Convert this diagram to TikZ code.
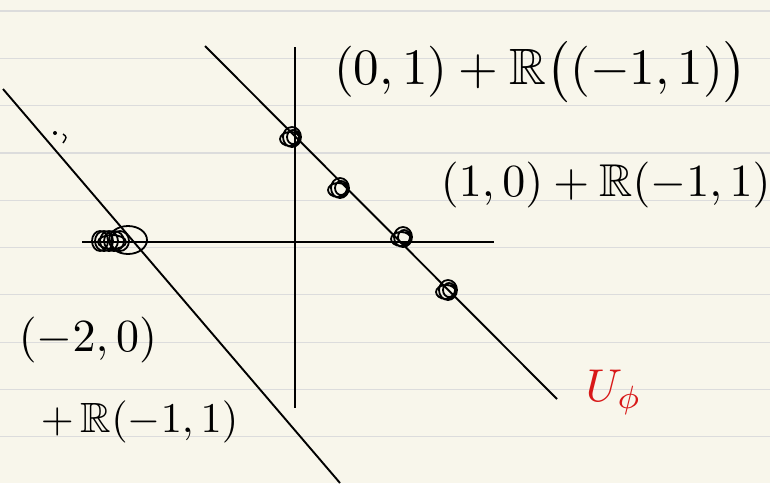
\documentclass[tikz,border=0pt]{standalone}
\usepackage{amsmath,amssymb}
\usetikzlibrary{positioning, calc}
\definecolor{paper}{HTML}{F8F6EB}
\definecolor{ruling}{HTML}{DCDCDC}
\definecolor{pen}{HTML}{D81818}

\begin{document}
\begin{tikzpicture}[x=1pt, y=-1pt,
        axis/.style={line width=2pt},
        solline/.style={line width=1.9pt},
        blob/.style={line width=1.8pt},
        lbl/.style={inner sep=0pt, scale=4.6}
    ]
    % paper
    \fill[paper] (0,0) rectangle (770,483);
    \useasboundingbox (0,0) rectangle (770,483);
    \foreach \k in {0,...,9}
        \draw[ruling, line width=1.2pt] (0,{11+47.3*\k}) -- (770,{11+47.3*\k});

    % axes
    \coordinate (xl) at (82,242);
    \coordinate (xr) at (494,242);
    \coordinate (yt) at (295,47);
    \coordinate (yb) at (295,408);
    \draw[axis] (xl) -- (xr);
    \draw[axis] (yt) -- (yb);

    % the two lines
    \coordinate (a1) at (205,46);
    \coordinate (a2) at (557,399);
    \coordinate (b1) at (3,89);
    \coordinate (b2) at (340,483);
    \draw[solline] (a1) -- (a2);
    \draw[solline] (b1) -- (b2);

    % circled points on the upper line
    \foreach \px/\py in {292/137, 340/188, 403/237, 448/290}
        \draw[blob] (\px,\py) ellipse [x radius=9, y radius=10]
            (\px-2,\py+2) ellipse [x radius=10, y radius=7]
            (\px+1,\py) ellipse [x radius=6, y radius=7];

    % scribbled point on the lower line
    \draw[blob] (128,240) ellipse [x radius=19, y radius=14];
    \foreach \cx/\rx in {100/8, 104/9, 109/9, 114/10, 120/9}
        \draw[blob] (\cx,241) ellipse [x radius=\rx, y radius=10];
    \draw[blob] (112,242) ellipse [x radius=14, y radius=7];

    % small mark
    \fill (55,133) circle [radius=2];
    \draw[line width=1.4pt] (63,134) .. controls (67,137) .. (63,143);

    % labels
    \node[lbl, scale=1.11, anchor=west] (lineA) at (333,72) {$(0,1)+\mathbb{R}\big((-1,1)\big)$};
    \node[lbl, anchor=west] (lineA2) at (440,185) {$(1,0)+\mathbb{R}(-1,1)$};
    \node[lbl, anchor=west] (ptB) at (18,340) {$(-2,0)$};
    \node[lbl, scale=0.92, anchor=west] (dirB) at ($(ptB.west)+(22,82)$) {${+}\,\mathbb{R}(-1,1)$};
    \node[lbl, text=pen, anchor=west] (uphi) at (585,392) {$U_{\phi}$};
\end{tikzpicture}
\end{document}
